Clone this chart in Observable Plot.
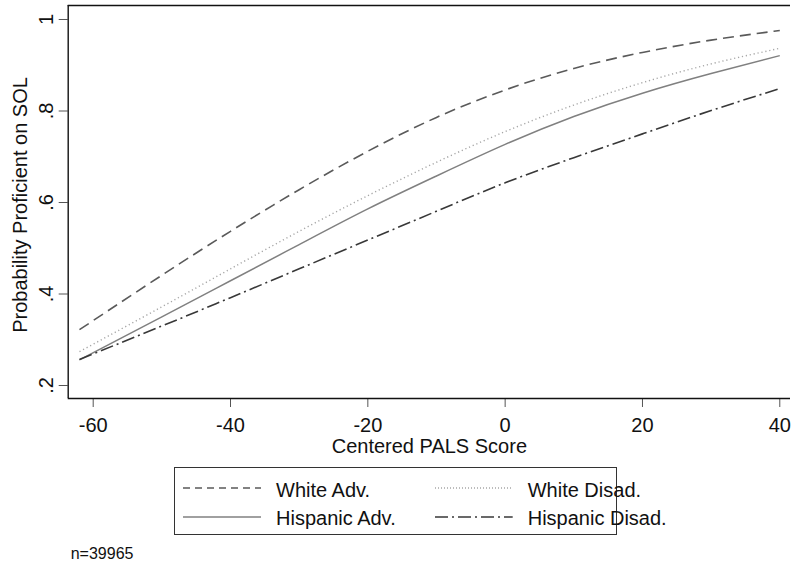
<!DOCTYPE html>
<html><head><meta charset="utf-8">
<script src="https://cdn.jsdelivr.net/npm/d3@7"></script>
<script src="https://cdn.jsdelivr.net/npm/@observablehq/plot@0.6"></script>
<style>
body{margin:0;background:#fff;font-family:"Liberation Sans",Arial,sans-serif;}
#wrap{position:relative;width:791px;height:567px;overflow:hidden;background:#fff;}
#chart{position:absolute;left:0;top:0;}
#legend{position:absolute;left:174px;top:467px;width:443px;height:68px;border:1px solid #333;box-sizing:border-box;}
.lg{position:absolute;font-size:20px;line-height:20px;color:#111;white-space:nowrap;}
.ls{position:absolute;}
#note{position:absolute;left:70.7px;top:546px;font-size:16px;line-height:16px;color:#111;}
</style></head><body>
<div id="wrap"><div id="chart"></div><div id="legend"></div><div id="note">n=39965</div></div>
<script>
// ---- data ----
const xValues = [-62, -50, -40, -30, -20, -10, 0, 10, 20, 30, 40];
const whiteAdv = [0.322, 0.441, 0.537, 0.628, 0.712, 0.786, 0.846, 0.893, 0.928, 0.955, 0.976];
const whiteDisad = [0.274, 0.372, 0.455, 0.537, 0.615, 0.688, 0.755, 0.813, 0.862, 0.903, 0.937];
const hispanicAdv = [0.256, 0.350, 0.429, 0.508, 0.586, 0.658, 0.727, 0.788, 0.839, 0.882, 0.921];
const hispanicDisad = [0.257, 0.330, 0.392, 0.455, 0.518, 0.581, 0.643, 0.698, 0.750, 0.801, 0.849];
const seriesNames = ["White Adv.", "White Disad.", "Hispanic Adv.", "Hispanic Disad."];
const xTicks = [-60, -40, -20, 0, 20, 40];
const xTickLabels = ["-60", "-40", "-20", "0", "20", "40"];
const yTicks = [0.2, 0.4, 0.6, 0.8, 1];
const yTickLabels = [".2", ".4", ".6", ".8", "1"];
const xTitle = "Centered PALS Score";
const yTitle = "Probability Proficient on SOL";

// ---- styles ----
const seriesValues = [whiteAdv, whiteDisad, hispanicAdv, hispanicDisad];
const styles = [
  {stroke: "#5a5a5a", dash: "11,6", width: 1.6, legendDash: "7,5"},
  {stroke: "#a6a6a6", dash: "1.2,2.8", width: 1.4, legendDash: "1,2"},
  {stroke: "#808080", dash: null, width: 1.5, legendDash: null},
  {stroke: "#383838", dash: "13,4,2,4", width: 1.6, legendDash: "13,4,2,4"}
];
const rows = [];
seriesNames.forEach((s, k) => xValues.forEach((x, i) => rows.push({series: s, x, y: seriesValues[k][i]})));

const xDomain = [-63.64, 41.56];
const yDomain = [0.1716, 1.0306];
const font = '"Liberation Sans", Arial, sans-serif';

const lineMarks = seriesNames.map((s, k) => Plot.line(rows.filter(r => r.series === s), {
  x: "x", y: "y", stroke: styles[k].stroke, strokeWidth: styles[k].width,
  strokeDasharray: styles[k].dash || undefined, curve: "natural",
  strokeLinecap: "butt"
}));

const chart = Plot.plot({
  width: 791, height: 455,
  marginLeft: 67.7, marginRight: 1, marginTop: 5, marginBottom: 57,
  x: {domain: xDomain},
  y: {domain: yDomain},
  style: {fontFamily: font, background: "white", color: "#111", overflow: "visible"},
  marks: [
    Plot.axisX(xTicks, {tickSize: 9, tickPadding: 9.8, fontSize: 20, tickFormat: (d) => xTickLabels[xTicks.indexOf(d)], label: null, stroke: "#555", fill: "#111"}),
    Plot.axisY(yTicks, {tickSize: 9, tickFormat: () => "", label: null, stroke: "#555"}),
    Plot.text(yTicks, {y: d => d, frameAnchor: "left", text: (d, i) => yTickLabels[i], rotate: -90, dx: -22, fontSize: 20, textAnchor: "middle", lineAnchor: "middle", fill: "#111"}),
    Plot.text([xTitle], {frameAnchor: "bottom", text: d => d, dy: 47.6, fontSize: 20, textAnchor: "middle", lineAnchor: "middle", fill: "#111"}),
    Plot.text([yTitle], {frameAnchor: "left", text: d => d, dx: -48, dy: 3, rotate: -90, fontSize: 20, textAnchor: "middle", lineAnchor: "middle", fill: "#111"}),
    ...lineMarks,
    Plot.ruleX([xDomain[0]], {stroke: "#111", strokeWidth: 1.4}),
    Plot.ruleY([yDomain[0], yDomain[1]], {stroke: "#111", strokeWidth: 1.4})
  ]
});
document.getElementById("chart").appendChild(chart);

// ---- legend ----
const legend = document.getElementById("legend");
const pos = [
  {sx: 181.7, ex: 260, ly: 486.7, tx: 275, tt: 479.1},
  {sx: 434, ex: 511.7, ly: 486.7, tx: 526.7, tt: 479.1},
  {sx: 181.7, ex: 260, ly: 516, tx: 275, tt: 507.1},
  {sx: 434, ex: 511.7, ly: 516, tx: 526.7, tt: 507.1}
];
seriesNames.forEach((s, k) => {
  const p = pos[k];
  const w = p.ex - p.sx;
  const svg = d3.create("svg").attr("class", "ls").attr("width", w).attr("height", 6)
    .style("left", (p.sx - 174) + "px").style("top", (p.ly - 467 - 3) + "px");
  svg.append("line").attr("x1", 0).attr("x2", w).attr("y1", 3).attr("y2", 3)
    .attr("stroke", styles[k].stroke).attr("stroke-width", styles[k].width)
    .attr("stroke-dasharray", styles[k].legendDash);
  legend.appendChild(svg.node());
  const t = document.createElement("div");
  t.className = "lg"; t.textContent = s;
  t.style.left = (p.tx - 174) + "px"; t.style.top = (p.tt - 467) + "px";
  legend.appendChild(t);
});
</script>
</body></html>
